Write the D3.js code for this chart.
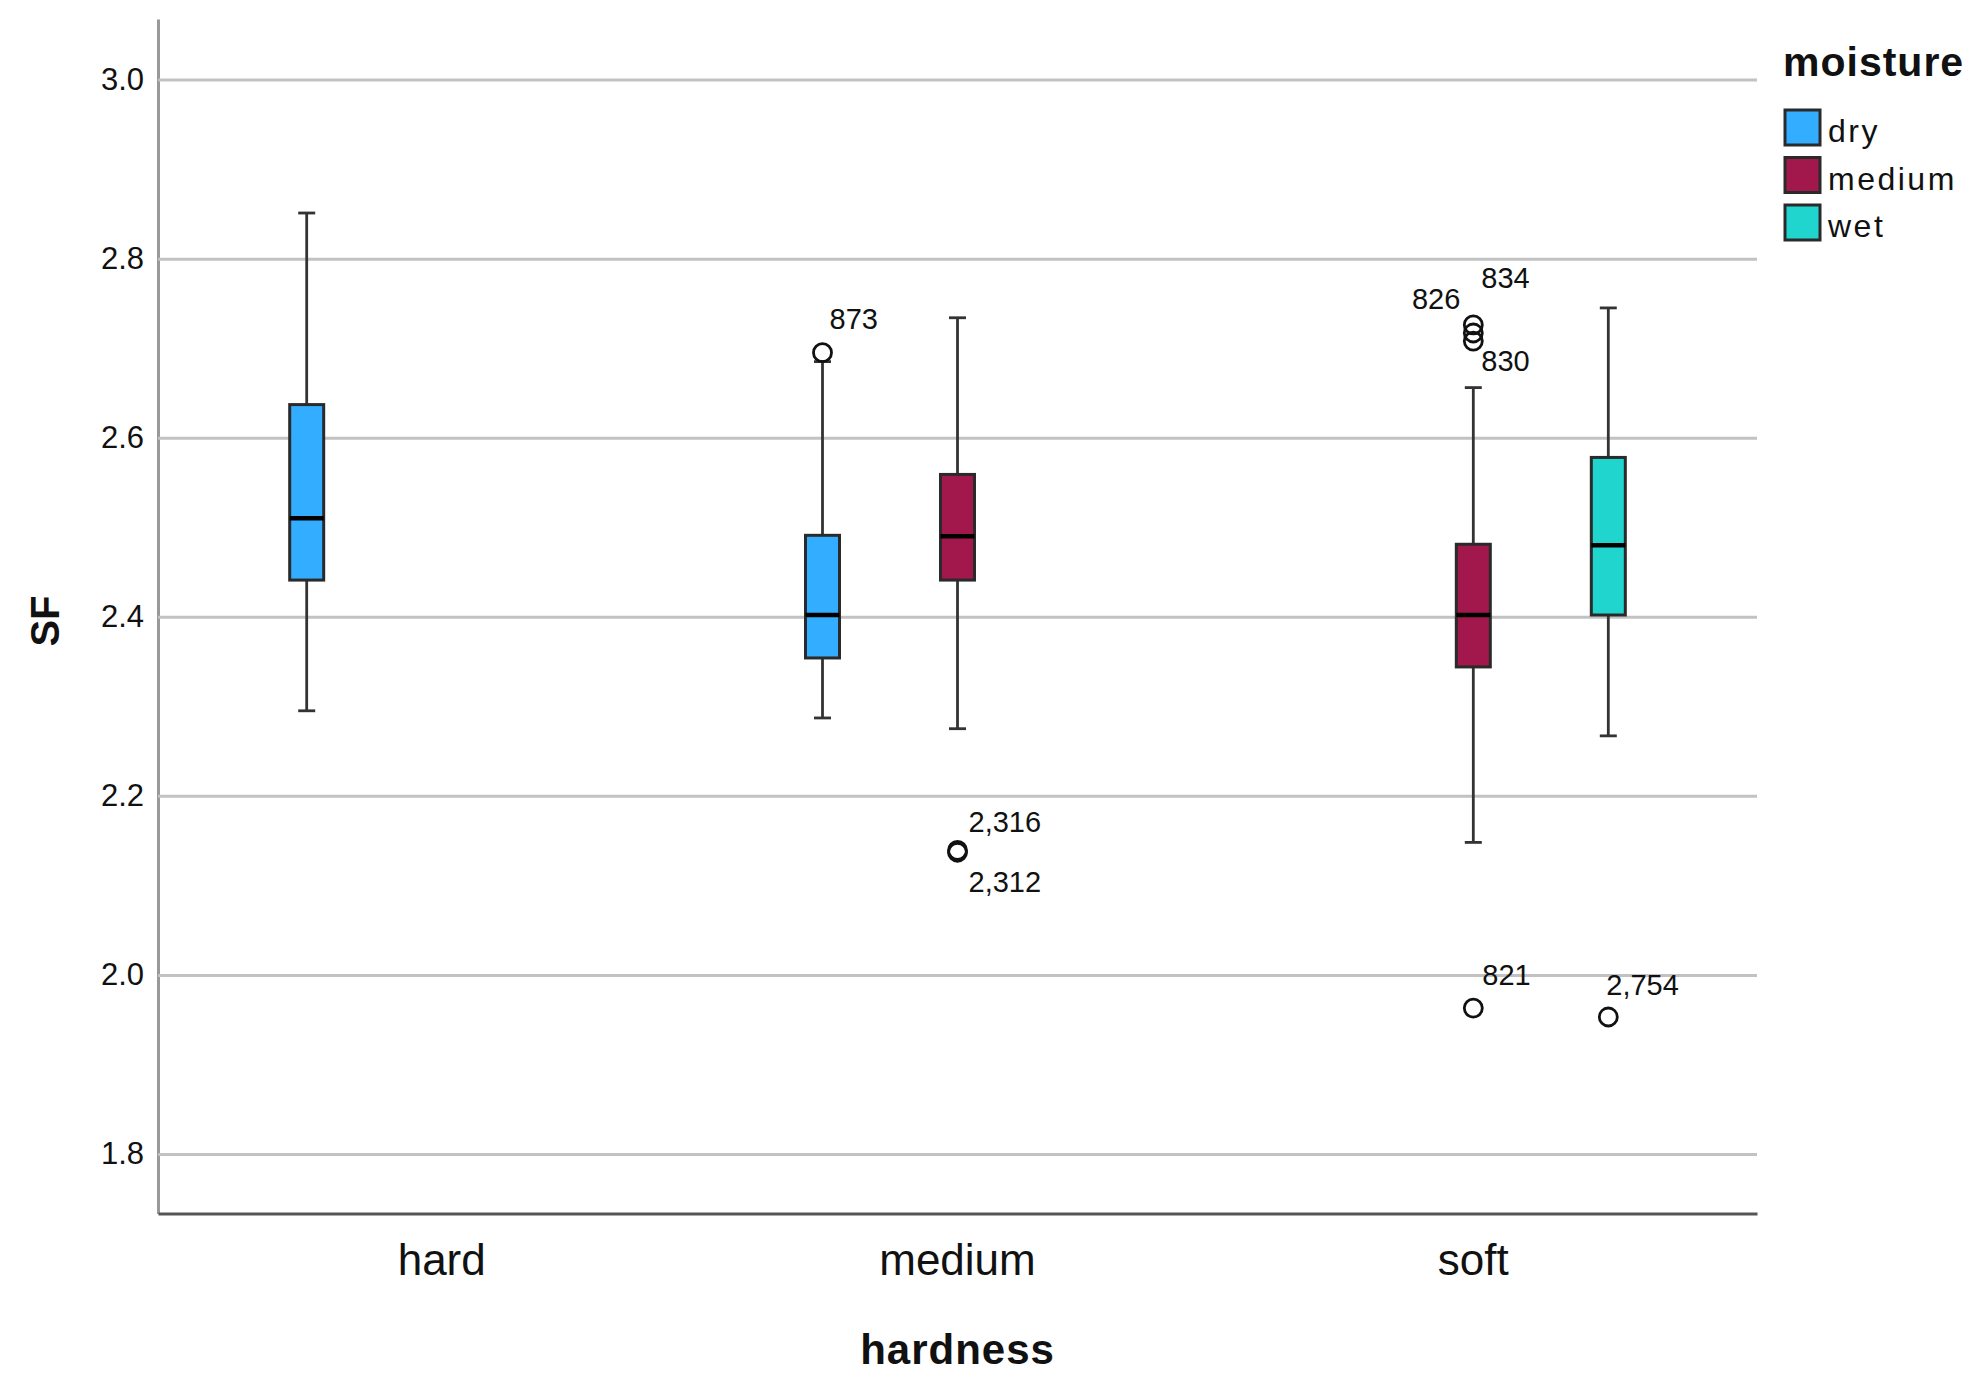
<!DOCTYPE html>
<html>
<head>
<meta charset="utf-8">
<script src="https://cdn.jsdelivr.net/npm/d3@7"></script>
<style>
  body { margin: 0; background: #fff; }
  svg text { font-family: "Liberation Sans", Arial, sans-serif; fill: #111; }
</style>
</head>
<body>
<div id="chart"></div>
<script>
// categories
const hardness = ["hard", "medium", "soft"]
const moisture = ["dry", "medium", "wet"]
const moistureColors = ["#33adff", "#a2184c", "#21d5cf"]

// one entry per box
const boxHardness = ["hard", "medium", "medium", "soft", "soft"]
const boxMoisture = ["dry", "dry", "medium", "medium", "wet"]
const whiskerLow = [2.295, 2.287, 2.275, 2.148, 2.267]
const q1 = [2.441, 2.354, 2.441, 2.344, 2.402]
const median = [2.510, 2.402, 2.490, 2.402, 2.480]
const q3 = [2.637, 2.491, 2.559, 2.481, 2.578]
const whiskerHigh = [2.851, 2.685, 2.734, 2.656, 2.745]

// outliers
const outlierHardness = ["medium", "medium", "medium", "soft", "soft", "soft", "soft", "soft"]
const outlierMoisture = ["dry", "medium", "medium", "medium", "medium", "medium", "medium", "wet"]
const outlierValues = [2.695, 2.139, 2.137, 2.726, 2.717, 2.708, 1.963, 1.953]
const outlierLabels = ["873", "2,316", "2,312", "826", "834", "830", "821", "2,754"]

const yTicks = [1.8, 2.0, 2.2, 2.4, 2.6, 2.8, 3.0]

const renderBoxplot = ({htmlComponent}) => {
    const W = 1982, H = 1389
    const plot = { left: 158, right: 1757, top: 19, bottom: 1213.5 }

    const svg = d3.select(htmlComponent).append('svg')
        .attr('width', W)
        .attr('height', H)

    const yScale = d3.scaleLinear()
        .domain([1.7335, 3.0677])
        .range([plot.bottom, plot.top])

    const xScale = d3.scaleBand()
        .domain(hardness)
        .range([plot.left, plot.right])
        .paddingOuter(0.05)
        .paddingInner(0)

    // slot of each moisture level inside a hardness group
    const slot = d3.scalePoint()
        .domain(moisture)
        .range([-135, 135])

    const color = d3.scaleOrdinal().domain(moisture).range(moistureColors)

    const cx = (h, m) => xScale(h) + xScale.bandwidth() / 2 + slot(m)

    // y axis with gridlines
    const yAxis = svg.append('g')
        .attr('transform', `translate(${plot.left}, 0)`)
        .call(d3.axisLeft(yScale)
            .tickValues(yTicks)
            .tickFormat(d3.format('.1f'))
            .tickSizeInner(-(plot.right - plot.left))
            .tickSizeOuter(0)
            .tickPadding(14))
    yAxis.selectAll('.tick line')
        .attr('stroke', '#c2c2c2')
        .attr('stroke-width', 3)
    yAxis.selectAll('.tick text')
        .attr('font-size', 31)
        .attr('fill', '#222')
    yAxis.select('.domain')
        .attr('stroke', '#999')
        .attr('stroke-width', 3)

    // x axis
    const xAxis = svg.append('g')
        .attr('transform', `translate(0, ${plot.bottom})`)
        .call(d3.axisBottom(xScale).tickSize(0).tickPadding(30))
    xAxis.select('.domain')
        .attr('stroke', '#555')
        .attr('stroke-width', 3)
    xAxis.selectAll('.tick text')
        .attr('font-size', 44)
        .attr('fill', '#222')

    // axis titles
    svg.append('text')
        .attr('transform', 'translate(59, 621) rotate(-90)')
        .attr('text-anchor', 'middle')
        .attr('font-size', 40)
        .attr('font-weight', 'bold')
        .text('SF')

    svg.append('text')
        .attr('x', (plot.left + plot.right) / 2)
        .attr('y', 1364)
        .attr('text-anchor', 'middle')
        .attr('font-size', 42)
        .attr('font-weight', 'bold')
        .attr('letter-spacing', 1)
        .text('hardness')

    // boxes
    const boxes = boxHardness.map((h, i) => ({
        h, m: boxMoisture[i],
        lo: whiskerLow[i], q1: q1[i], med: median[i], q3: q3[i], hi: whiskerHigh[i]
    }))

    const boxW = 34, capW = 17
    const g = svg.append('g')

    const box = g.selectAll('g.box').data(boxes)
        .enter()
            .append('g')
                .attr('class', 'box')

    box.append('line')
        .attr('x1', d => cx(d.h, d.m)).attr('x2', d => cx(d.h, d.m))
        .attr('y1', d => yScale(d.q3)).attr('y2', d => yScale(d.hi))
        .attr('stroke', '#333').attr('stroke-width', 2.8)
    box.append('line')
        .attr('x1', d => cx(d.h, d.m)).attr('x2', d => cx(d.h, d.m))
        .attr('y1', d => yScale(d.q1)).attr('y2', d => yScale(d.lo))
        .attr('stroke', '#333').attr('stroke-width', 2.8)
    box.append('line')
        .attr('x1', d => cx(d.h, d.m) - capW / 2).attr('x2', d => cx(d.h, d.m) + capW / 2)
        .attr('y1', d => yScale(d.hi)).attr('y2', d => yScale(d.hi))
        .attr('stroke', '#333').attr('stroke-width', 2.8)
    box.append('line')
        .attr('x1', d => cx(d.h, d.m) - capW / 2).attr('x2', d => cx(d.h, d.m) + capW / 2)
        .attr('y1', d => yScale(d.lo)).attr('y2', d => yScale(d.lo))
        .attr('stroke', '#333').attr('stroke-width', 2.8)
    box.append('rect')
        .attr('x', d => cx(d.h, d.m) - boxW / 2)
        .attr('width', boxW)
        .attr('y', d => yScale(d.q3))
        .attr('height', d => yScale(d.q1) - yScale(d.q3))
        .attr('fill', d => color(d.m))
        .attr('stroke', '#2a2a2a')
        .attr('stroke-width', 3)
    box.append('line')
        .attr('x1', d => cx(d.h, d.m) - boxW / 2).attr('x2', d => cx(d.h, d.m) + boxW / 2)
        .attr('y1', d => yScale(d.med)).attr('y2', d => yScale(d.med))
        .attr('stroke', '#000').attr('stroke-width', 4.5)

    // outliers
    const outliers = outlierValues.map((v, i) => ({
        h: outlierHardness[i], m: outlierMoisture[i], v, label: outlierLabels[i]
    }))

    // where each case label sits relative to its circle
    const labelPos = {
        '873': [7, -24, 'start'],
        '2,316': [11, -18, 'start'],
        '2,312': [11, 40, 'start'],
        '826': [-13, -16, 'end'],
        '834': [8, -45, 'start'],
        '830': [8, 30, 'start'],
        '821': [9, -23, 'start'],
        '2,754': [-2, -22, 'start']
    }

    g.selectAll('circle.outlier').data(outliers)
        .enter()
            .append('circle')
                .attr('class', 'outlier')
                .attr('cx', d => cx(d.h, d.m))
                .attr('cy', d => yScale(d.v))
                .attr('r', 9)
                .attr('fill', 'none')
                .attr('stroke', '#111')
                .attr('stroke-width', 2.8)

    g.selectAll('text.caseLabel').data(outliers)
        .enter()
            .append('text')
                .attr('class', 'caseLabel')
                .attr('x', d => cx(d.h, d.m) + labelPos[d.label][0])
                .attr('y', d => yScale(d.v) + labelPos[d.label][1])
                .attr('text-anchor', d => labelPos[d.label][2])
                .attr('font-size', 29)
                .text(d => d.label)

    // legend
    const legend = svg.append('g')
        .attr('transform', 'translate(1785, 0)')
    legend.append('text')
        .attr('x', -2)
        .attr('y', 76)
        .attr('font-size', 41)
        .attr('font-weight', 'bold')
        .attr('letter-spacing', 1)
        .text('moisture')

    const item = legend.selectAll('g.item').data(moisture)
        .enter()
            .append('g')
                .attr('class', 'item')
                .attr('transform', (d, i) => `translate(0, ${110 + i * 47.5})`)
    item.append('rect')
        .attr('width', 35)
        .attr('height', 35)
        .attr('fill', d => color(d))
        .attr('stroke', '#2a2a2a')
        .attr('stroke-width', 3)
    item.append('text')
        .attr('x', 43)
        .attr('y', 32)
        .attr('font-size', 32)
        .attr('letter-spacing', 2.5)
        .text(d => d)
}

renderBoxplot({ htmlComponent: '#chart' })
</script>
</body>
</html>
